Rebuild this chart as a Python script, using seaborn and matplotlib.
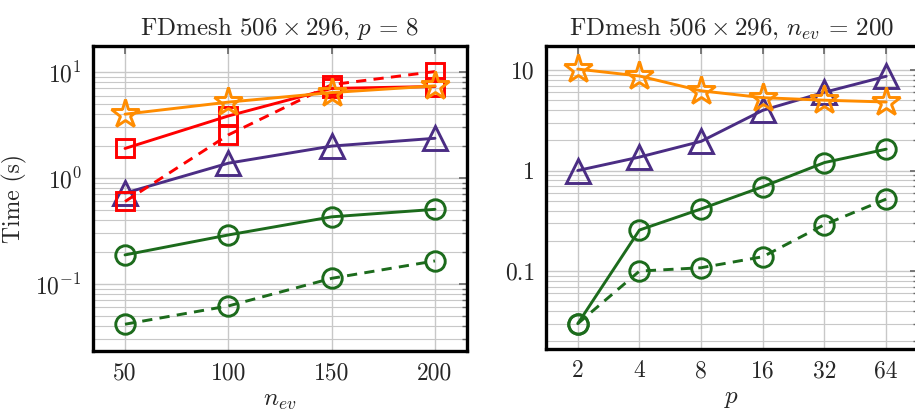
import numpy as np
import pandas as pd
import matplotlib
matplotlib.use("Agg")
import matplotlib.pyplot as plt
import matplotlib.ticker as mticker
import seaborn as sns

# ---- data: left panel (p = 8) ----
nev = [50, 100, 150, 200]
left_orange = [4.0, 5.2, 6.4, 7.4]
left_red_solid = [1.9, 3.85, 7.0, 7.3]
left_red_dash = [0.6, 2.55, 7.6, 10.1]
left_purple = [0.72, 1.38, 2.0, 2.37]
left_green_solid = [0.188, 0.29, 0.43, 0.506]
left_green_dash = [0.0417, 0.062, 0.113, 0.165]

# ---- data: right panel (n_ev = 200) ----
procs = [2, 4, 8, 16, 32, 64]
right_orange = [10.2, 8.7, 6.2, 5.3, 5.0, 4.8]
right_purple = [1.0, 1.36, 1.95, 3.97, 6.0, 8.65]
right_green_solid = [0.030, 0.256, 0.415, 0.69, 1.2, 1.63]
right_green_dash = [0.030, 0.100, 0.108, 0.139, 0.29, 0.52]

left_xticks = [50, 100, 150, 200]
right_xticks = [2, 4, 8, 16, 32, 64]
right_yticks = [0.1, 1, 10]
right_yticklabels = ["0.1", "1", "10"]

ORANGE = "#ff8c00"
RED = "#ff0000"
PURPLE = "#4b2d84"
GREEN = "#1c6b1c"

sns.set_style("white")
plt.rcParams.update({
    "font.family": "serif",
    "font.serif": ["cmr10"],
    "mathtext.fontset": "cm",
    "axes.formatter.use_mathtext": True,
    "font.size": 17,
    "axes.unicode_minus": True,
})

fig = plt.figure(figsize=(9.15, 4.15), dpi=100)
W, H = 915, 415
axL = fig.add_axes([93 / W, (H - 351) / H, 374 / W, 305 / H])
axR = fig.add_axes([546 / W, (H - 349) / H, 372 / W, 303 / H])

markers = {"star": dict(marker="*", ms=21), "square": dict(marker="s", ms=13),
           "tri": dict(marker="^", ms=17), "circ": dict(marker="o", ms=14)}


def draw(ax, x, y, color, mk, ls):
    df = pd.DataFrame({"x": x, "y": y})
    sns.lineplot(data=df, x="x", y="y", ax=ax, color=color, linestyle=ls,
                 linewidth=2.1, markerfacecolor="none", markeredgecolor=color,
                 markeredgewidth=2.1, **markers[mk])


draw(axL, nev, left_green_dash, GREEN, "circ", (0, (3.5, 2.5)))
draw(axL, nev, left_green_solid, GREEN, "circ", "-")
draw(axL, nev, left_purple, PURPLE, "tri", "-")
draw(axL, nev, left_red_dash, RED, "square", (0, (3.5, 2.5)))
draw(axL, nev, left_red_solid, RED, "square", "-")
draw(axL, nev, left_orange, ORANGE, "star", "-")

draw(axR, procs, right_green_dash, GREEN, "circ", (0, (3.5, 2.5)))
draw(axR, procs, right_green_solid, GREEN, "circ", "-")
draw(axR, procs, right_purple, PURPLE, "tri", "-")
draw(axR, procs, right_orange, ORANGE, "star", "-")

for ax in (axL, axR):
    ax.set_yscale("log")
    ax.grid(True, which="major", color="#c8c8c8", linewidth=1.0)
    ax.grid(True, which="minor", axis="y", color="#c8c8c8", linewidth=0.8)
    ax.set_axisbelow(True)
    for s in ax.spines.values():
        s.set_linewidth(2.4)
        s.set_color("black")
    ax.tick_params(which="both", direction="in", top=True, right=True,
                   color="#666666", labelsize=17, pad=8)
    ax.tick_params(which="major", length=6, width=1.2)
    ax.tick_params(which="minor", length=3.5, width=1.0)

axL.set_xlim(34.5, 215.5)
axL.set_ylim(0.0233, 17.6)
axL.set_xticks(left_xticks)
axL.set_xticklabels([str(v) for v in left_xticks])
axL.yaxis.set_major_locator(mticker.LogLocator(base=10))
axL.yaxis.set_minor_locator(mticker.LogLocator(base=10, subs=np.arange(2, 10)))
axL.yaxis.set_minor_formatter(mticker.NullFormatter())
axL.set_xlabel(r"$n_{ev}$", fontsize=18)
axL.set_ylabel("Time (s)", fontsize=17, labelpad=6)
axL.set_title(r"FDmesh $506 \times 296$, $p\,=\,8$", fontsize=18, pad=8)

axR.set_xscale("log", base=2)
axR.set_xlim(1.4, 91.5)
axR.set_ylim(0.0168, 17.3)
axR.set_xticks(right_xticks)
axR.set_xticklabels([str(v) for v in right_xticks])
axR.xaxis.set_minor_locator(mticker.NullLocator())
axR.set_yticks(right_yticks)
axR.set_yticklabels(right_yticklabels)
axR.yaxis.set_minor_locator(mticker.LogLocator(base=10, subs=np.arange(2, 10)))
axR.yaxis.set_minor_formatter(mticker.NullFormatter())
axR.set_xlabel(r"$p$", fontsize=18)
axR.set_ylabel("")
axR.set_title(r"FDmesh $506 \times 296$, $n_{ev}\,=\,200$", fontsize=18, pad=8)

fig.savefig("out.png", dpi=100)
